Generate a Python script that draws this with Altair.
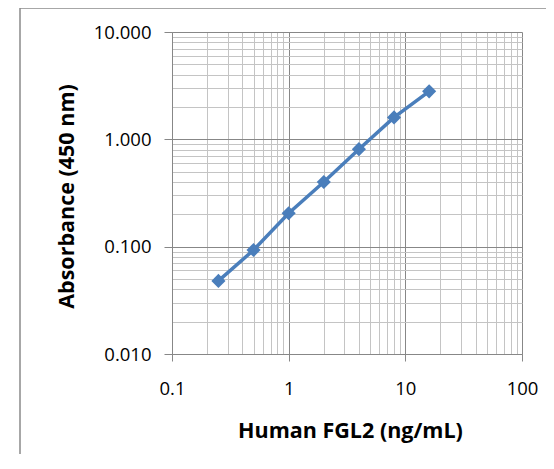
import altair as alt
import pandas as pd

# Data
concentration = [0.25, 0.5, 1, 2, 4, 8, 16]
absorbance = [0.048, 0.093, 0.205, 0.40, 0.81, 1.60, 2.80]

x_ticks = [0.1, 0.2, 0.3, 0.4, 0.5, 0.6, 0.7, 0.8, 0.9,
           1, 2, 3, 4, 5, 6, 7, 8, 9,
           10, 20, 30, 40, 50, 60, 70, 80, 90, 100]
y_ticks = [0.01, 0.02, 0.03, 0.04, 0.05, 0.06, 0.07, 0.08, 0.09,
           0.1, 0.2, 0.3, 0.4, 0.5, 0.6, 0.7, 0.8, 0.9,
           1, 2, 3, 4, 5, 6, 7, 8, 9, 10]

df = pd.DataFrame({"conc": concentration, "abs": absorbance})

FONT = "Open Sans"
MAJOR = "abs(log(datum.value)/LN10 - round(log(datum.value)/LN10)) < 0.001"
GRID_MAJOR = "#878787"
GRID_MINOR = "#c4c4c4"

x_axis = alt.Axis(
    values=x_ticks,
    labelExpr=f"({MAJOR}) ? format(datum.value, '') : ''",
    gridColor={"condition": {"test": MAJOR, "value": GRID_MAJOR}, "value": GRID_MINOR},
    tickColor={"condition": {"test": MAJOR, "value": GRID_MAJOR}, "value": "transparent"},
    tickSize=7,
    domainColor=GRID_MAJOR,
    labelFont=FONT, labelFontSize=18.5, labelColor="#000000",
    labelPadding=18, labelBaseline="top", labelFlush=False, labelOverlap=False,
    title="Human FGL2 (ng/mL)",
    titleFont=FONT, titleFontSize=21.5, titleFontWeight="bold", titleColor="#000000",
    titleX=178, titleY=83, titleBaseline="alphabetic", titleAlign="center",
)

y_axis = alt.Axis(
    values=y_ticks,
    labelExpr=f"({MAJOR}) ? format(datum.value, '.3f') : ''",
    gridColor={"condition": {"test": MAJOR, "value": GRID_MAJOR}, "value": GRID_MINOR},
    tickColor={"condition": {"test": MAJOR, "value": GRID_MAJOR}, "value": "transparent"},
    tickSize=8,
    domainColor=GRID_MAJOR,
    labelFont=FONT, labelFontSize=18.5, labelColor="#000000",
    labelPadding=13, labelFlush=False, labelOverlap=False, labelBaseline="middle",
    title="Absorbance (450 nm)",
    titleFont=FONT, titleFontSize=21.5, titleFontWeight="bold", titleColor="#000000",
    titleX=-99, titleY=164, titleBaseline="alphabetic", titleAlign="center", titleAngle=270,
)

x = alt.X("conc:Q", scale=alt.Scale(type="log", domain=[0.1, 100], nice=False), axis=x_axis)
y = alt.Y("abs:Q", scale=alt.Scale(type="log", domain=[0.01, 10], nice=False), axis=y_axis)

BLUE = "#4a7ebb"

line = alt.Chart(df).mark_line(color=BLUE, strokeWidth=3.5).encode(x=x, y=y)
points = alt.Chart(df).mark_point(shape="diamond", filled=True, opacity=1, color=BLUE, size=200).encode(x=x, y=y)

frame_df = pd.DataFrame({"k": [0]})
frame_left = alt.Chart(frame_df).mark_rule(color="#8a8a8a", strokeWidth=1.5).encode(
    x=alt.value(-152), y=alt.value(-24), y2=alt.value(440))
frame_top = alt.Chart(frame_df).mark_rule(color="#8a8a8a", strokeWidth=1.5).encode(
    x=alt.value(-152), x2=alt.value(374), y=alt.value(-24))

chart = alt.layer(frame_left, frame_top, line, points).properties(
    width=350, height=322,
    autosize=alt.AutoSizeParams(type="none"),
    padding={"left": 164, "top": 24, "right": 24, "bottom": 100},
).configure_view(stroke=None)

chart.save("out.html", embed_options={"renderer": "svg", "actions": False})
